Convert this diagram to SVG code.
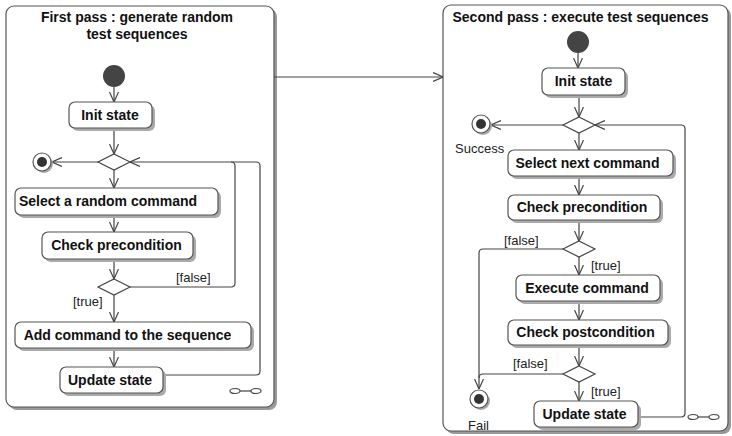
<svg xmlns="http://www.w3.org/2000/svg" width="732" height="436" viewBox="0 0 732 436">
<style>
.frame{fill:#fff;stroke:#555;stroke-width:1.2}
.fshadow{fill:#999}
.box{fill:#fff;stroke:#555;stroke-width:1.2}
.shadow{fill:#aaa}
.bt{font-family:"Liberation Sans",Arial,sans-serif;font-size:14px;font-weight:bold;fill:#111;text-anchor:middle}
.lbl{font-family:"Liberation Sans",Arial,sans-serif;font-size:13px;fill:#222}
.edge{fill:none;stroke:#444;stroke-width:1.2}
.dia{fill:#fff;stroke:#444;stroke-width:1.2}
.init{fill:#444}
.fin{fill:#fff;stroke:#555;stroke-width:1.2}
.dot{fill:#333}
.link{fill:#fff;stroke:#444;stroke-width:1.2}
</style>
<defs>
<marker id="arr" viewBox="0 0 10 10" refX="10" refY="5" markerWidth="10" markerHeight="10" markerUnits="userSpaceOnUse" orient="auto">
<path d="M0,0.5 L10,5 L0,9.5" fill="none" stroke="#444" stroke-width="1.2"/>
</marker>
</defs>

<g id="frame1">
<rect class="fshadow" x="9" y="9" width="268" height="401" rx="8"/>
<rect class="frame" x="6" y="6" width="268" height="401" rx="8"/>
<text class="bt" x="137" y="22">First pass : generate random</text>
<text class="bt" x="137" y="39">test sequences</text>
<g transform="translate(230,391)">
<ellipse class="link" cx="5" cy="0" rx="5" ry="2.5"/><line class="edge" x1="10" y1="0" x2="21" y2="0"/><ellipse class="link" cx="26" cy="0" rx="5" ry="2.5"/>
</g>
</g>

<g id="frame2">
<rect class="fshadow" x="446" y="8" width="285" height="426" rx="8"/>
<rect class="frame" x="443" y="5" width="285" height="426" rx="8"/>
<text class="bt" x="580.5" y="22">Second pass : execute test sequences</text>
<g transform="translate(688,417)">
<ellipse class="link" cx="5" cy="0" rx="5" ry="2.5"/><line class="edge" x1="10" y1="0" x2="21" y2="0"/><ellipse class="link" cx="26" cy="0" rx="5" ry="2.5"/>
</g>
</g>

<g id="connectors">
<line class="edge" x1="274" y1="77" x2="443" y2="77" marker-end="url(#arr)"/>
<line class="edge" x1="114" y1="87" x2="114" y2="102" marker-end="url(#arr)"/>
<line class="edge" x1="114" y1="128" x2="114" y2="154" marker-end="url(#arr)"/>
<line class="edge" x1="98" y1="162" x2="52" y2="162" marker-end="url(#arr)"/>
<line class="edge" x1="114" y1="170" x2="114" y2="188" marker-end="url(#arr)"/>
<line class="edge" x1="114" y1="215" x2="114" y2="232" marker-end="url(#arr)"/>
<line class="edge" x1="114" y1="259" x2="114" y2="279" marker-end="url(#arr)"/>
<line class="edge" x1="114" y1="295" x2="114" y2="322" marker-end="url(#arr)"/>
<line class="edge" x1="114" y1="348" x2="114" y2="367" marker-end="url(#arr)"/>
<path class="edge" d="M130,287 H231 Q235,287 235,283 V166 Q235,162 231,162"/>
<path class="edge" d="M163,375 H256 Q260,375 260,371 V166 Q260,162 256,162 H130" marker-end="url(#arr)"/>
<text class="lbl" x="176" y="282">[false]</text>
<text class="lbl" x="73" y="306">[true]</text>
<line class="edge" x1="578" y1="53" x2="578" y2="68" marker-end="url(#arr)"/>
<line class="edge" x1="579" y1="95" x2="579" y2="117" marker-end="url(#arr)"/>
<line class="edge" x1="563" y1="125" x2="491" y2="125" marker-end="url(#arr)"/>
<line class="edge" x1="579" y1="133" x2="579" y2="150" marker-end="url(#arr)"/>
<line class="edge" x1="579" y1="176" x2="579" y2="195" marker-end="url(#arr)"/>
<line class="edge" x1="579" y1="220" x2="579" y2="241" marker-end="url(#arr)"/>
<line class="edge" x1="579" y1="257" x2="579" y2="275" marker-end="url(#arr)"/>
<line class="edge" x1="579" y1="301" x2="579" y2="320" marker-end="url(#arr)"/>
<line class="edge" x1="579" y1="345" x2="579" y2="366" marker-end="url(#arr)"/>
<line class="edge" x1="579" y1="382" x2="579" y2="401" marker-end="url(#arr)"/>
<path class="edge" d="M563,249 H483 Q479,249 479,253 V389" marker-end="url(#arr)"/>
<path class="edge" d="M563,374 H483 Q479,374 479,378"/>
<path class="edge" d="M638,417 H681 Q685,417 685,413 V129 Q685,125 681,125 H595" marker-end="url(#arr)"/>
<text class="lbl" x="504" y="245">[false]</text>
<text class="lbl" x="591" y="270">[true]</text>
<text class="lbl" x="513" y="368">[false]</text>
<text class="lbl" x="591" y="396">[true]</text>
</g>

<g id="start1"><circle class="init" cx="114" cy="76" r="11"/></g>
<g id="initState1"><rect class="shadow" x="72" y="105" width="83" height="26" rx="6"/><rect class="box" x="69" y="102" width="83" height="26" rx="6"/><text class="bt" x="110" y="120">Init state</text></g>
<g id="decision1"><polygon class="dia" points="114,154 130,162 114,170 98,162"/></g>
<g id="end1"><circle class="shadow" cx="44" cy="164" r="9"/><circle class="fin" cx="42" cy="162" r="9"/><circle class="dot" cx="42" cy="162" r="5"/></g>
<g id="selectRandom"><rect class="shadow" x="18" y="191" width="203" height="27" rx="6"/><rect class="box" x="15" y="188" width="203" height="27" rx="6"/><text class="bt" x="108" y="206">Select a random command</text></g>
<g id="checkPre1"><rect class="shadow" x="45" y="235" width="151" height="27" rx="6"/><rect class="box" x="42" y="232" width="151" height="27" rx="6"/><text class="bt" x="116.5" y="250">Check precondition</text></g>
<g id="decision2"><polygon class="dia" points="114,279 130,287 114,295 98,287"/></g>
<g id="addCommand"><rect class="shadow" x="18" y="325" width="236" height="26" rx="6"/><rect class="box" x="15" y="322" width="236" height="26" rx="6"/><text class="bt" x="127.5" y="340">Add command to the sequence</text></g>
<g id="updateState1"><rect class="shadow" x="63" y="370" width="103" height="26" rx="6"/><rect class="box" x="60" y="367" width="103" height="26" rx="6"/><text class="bt" x="110" y="385">Update state</text></g>

<g id="start2"><circle class="init" cx="578" cy="42" r="11"/></g>
<g id="initState2"><rect class="shadow" x="545" y="71" width="83" height="27" rx="6"/><rect class="box" x="542" y="68" width="83" height="27" rx="6"/><text class="bt" x="583.5" y="86">Init state</text></g>
<g id="decision3"><polygon class="dia" points="579,117 595,125 579,133 563,125"/></g>
<g id="success"><circle class="shadow" cx="483" cy="126" r="9"/><circle class="fin" cx="481" cy="124" r="9"/><circle class="dot" cx="481" cy="124" r="5"/><text class="lbl" x="455" y="153">Success</text></g>
<g id="selectNext"><rect class="shadow" x="511" y="153" width="165" height="26" rx="6"/><rect class="box" x="508" y="150" width="165" height="26" rx="6"/><text class="bt" x="587.5" y="168">Select next command</text></g>
<g id="checkPre2"><rect class="shadow" x="511" y="198" width="152" height="25" rx="6"/><rect class="box" x="508" y="195" width="152" height="25" rx="6"/><text class="bt" x="582" y="212">Check precondition</text></g>
<g id="decision4"><polygon class="dia" points="579,241 595,249 579,257 563,249"/></g>
<g id="execute"><rect class="shadow" x="519" y="278" width="144" height="26" rx="6"/><rect class="box" x="516" y="275" width="144" height="26" rx="6"/><text class="bt" x="587" y="293">Execute command</text></g>
<g id="checkPost"><rect class="shadow" x="511" y="323" width="160" height="25" rx="6"/><rect class="box" x="508" y="320" width="160" height="25" rx="6"/><text class="bt" x="585.5" y="337">Check postcondition</text></g>
<g id="decision5"><polygon class="dia" points="579,366 595,374 579,382 563,374"/></g>
<g id="updateState2"><rect class="shadow" x="537" y="404" width="104" height="26" rx="6"/><rect class="box" x="534" y="401" width="104" height="26" rx="6"/><text class="bt" x="584.5" y="419">Update state</text></g>
<g id="fail"><circle class="shadow" cx="481" cy="401" r="9"/><circle class="fin" cx="479" cy="399" r="9"/><circle class="dot" cx="479" cy="399" r="5"/><text class="lbl" x="468" y="430">Fail</text></g>
</svg>
